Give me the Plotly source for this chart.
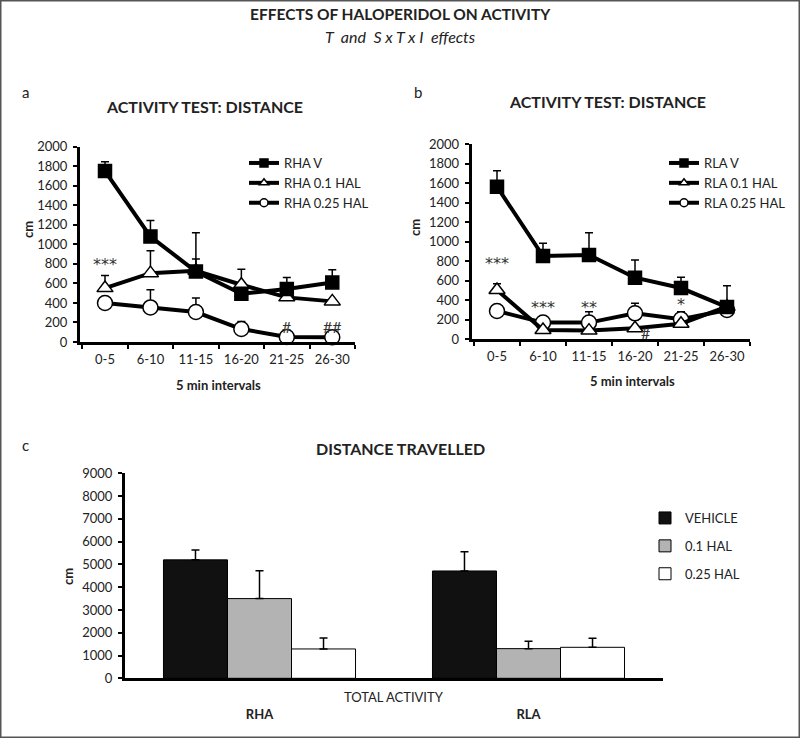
import plotly.graph_objects as go

# ---------------- data ----------------
intervals = ["0-5", "6-10", "11-15", "16-20", "21-25", "26-30"]

rha_v = [1750, 1080, 722, 494, 542, 610]
rha_v_err = [97, 164, 128, 0, 119, 130]
rha_01 = [552, 705, 730, 586, 457, 416]
rha_01_err = [129, 229, 388, 160, 0, 0]
rha_025 = [399, 354, 307, 133, 51, 48]
rha_025_err = [0, 181, 143, 78, 0, 0]

rla_v = [1563, 853, 863, 631, 525, 330]
rla_v_err = [164, 130, 229, 181, 110, 219]
rla_01 = [505, 96, 89, 113, 160, 334]
rla_01_err = [65, 0, 0, 0, 0, 0]
rla_025 = [290, 171, 171, 266, 205, 300]
rla_025_err = [0, 0, 112, 103, 78, 0]

groups = ["RHA", "RLA"]
treatments = ["VEHICLE", "0.1 HAL", "0.25 HAL"]
total_mean = {"VEHICLE": [5200, 4712], "0.1 HAL": [3500, 1302], "0.25 HAL": [1288, 1361]}
total_err = {"VEHICLE": [434, 849], "0.1 HAL": [1227, 322], "0.25 HAL": [483, 395]}
bar_colors = {"VEHICLE": "#111111", "0.1 HAL": "#b3b3b3", "0.25 HAL": "#ffffff"}

# significance marks: (interval index, y value, text)
marks_a = [(0, 790, "***"), (4, 160, "#"), (5, 160, "##")]
marks_b = [(0, 780, "***"), (1, 330, "***"), (2, 330, "**"), (4, 360, "*"), (3.22, 70, "#")]

FONT = "Lato"
W, H = 800, 738

fig = go.Figure()

symbols = {"V": ("square", "black", 13), "01": ("triangle-up", "white", 14), "025": ("circle", "white", 15)}
leg_symbols = {"V": ("square", "black", 8), "01": ("triangle-up", "white", 8), "025": ("circle", "white", 8)}


def add_series(x, y, err, key, name, xa, ya, legend):
    sym, fill, size = symbols[key]
    fig.add_trace(go.Scatter(
        x=x, y=y, mode="lines+markers", name=name, showlegend=False,
        xaxis=xa, yaxis=ya, cliponaxis=False,
        line=dict(color="black", width=4),
        marker=dict(symbol=sym, color=fill, size=size, line=dict(color="black", width=1.5)),
        error_y=dict(type="data", symmetric=False, array=err, arrayminus=[0] * len(err),
                     color="black", thickness=1.5, width=4),
    ))
    lsym, lfill, lsize = leg_symbols[key]
    fig.add_trace(go.Scatter(
        x=[None], y=[None], mode="lines+markers", name=name, legend=legend,
        xaxis=xa, yaxis=ya,
        line=dict(color="black", width=4),
        marker=dict(symbol=lsym, color=lfill, size=lsize, line=dict(color="black", width=1.5)),
    ))


add_series(intervals, rha_025, rha_025_err, "025", "RHA 0.25 HAL", "x", "y", "legend")
add_series(intervals, rha_01, rha_01_err, "01", "RHA 0.1 HAL", "x", "y", "legend")
add_series(intervals, rha_v, rha_v_err, "V", "RHA V", "x", "y", "legend")
add_series(intervals, rla_025, rla_025_err, "025", "RLA 0.25 HAL", "x2", "y2", "legend2")
add_series(intervals, rla_01, rla_01_err, "01", "RLA 0.1 HAL", "x2", "y2", "legend2")
add_series(intervals, rla_v, rla_v_err, "V", "RLA V", "x2", "y2", "legend2")

for i, t in enumerate(treatments):
    fig.add_trace(go.Bar(
        x=groups, y=total_mean[t], name=t, xaxis="x3", yaxis="y3", legend="legend3",
        legendgroup=t, legendrank=i,
        marker=dict(color=bar_colors[t], line=dict(color="black", width=1)),
        error_y=dict(type="data", symmetric=False, array=total_err[t], arrayminus=[0, 0],
                     color="black", thickness=1.5, width=4),
    ))

# ---------------- layout ----------------
def px_x(v):
    return v / W


def px_y(v):
    return 1 - v / H


tickfont = dict(family=FONT, size=13, color="#222")
line_y = dict(showline=True, linecolor="black", linewidth=3, ticks="outside", ticklen=4,
              tickwidth=2, tickcolor="black", showgrid=False, zeroline=False, tickfont=tickfont,
              automargin=False, ticklabelstandoff=3)
line_x = dict(showline=True, linecolor="black", linewidth=3, ticks="outside", ticklen=4,
              tickwidth=2, tickcolor="black", showgrid=False, zeroline=False, tickfont=tickfont,
              tickson="boundaries", type="category", range=[-0.55, 5.5], automargin=False,
              tickangle=0, ticklabelstandoff=3)

legfont = dict(family=FONT, size=13, color="#222")

fig.update_layout(
    width=W, height=H, margin=dict(l=0, r=0, t=0, b=0, autoexpand=False),
    paper_bgcolor="white", plot_bgcolor="white",
    font=dict(family=FONT, color="#222"),
    barmode="group", bargap=0.286, bargroupgap=0,
    xaxis=dict(domain=[px_x(80), px_x(355)], anchor="y", **line_x),
    yaxis=dict(domain=[px_y(342), px_y(146.7)], anchor="x", range=[0, 2000], dtick=200, **line_y),
    xaxis2=dict(domain=[px_x(471.7), px_x(750)], anchor="y2", **line_x),
    yaxis2=dict(domain=[px_y(339.3), px_y(144)], anchor="x2", range=[0, 2000], dtick=200, **line_y),
    xaxis3=dict(domain=[px_x(125), px_x(663)], anchor="y3", showline=True, linecolor="black",
                linewidth=3, ticks="", showgrid=False, zeroline=False, automargin=False,
                tickfont=dict(family=FONT, size=13, color="#222", weight="bold"),
                ticklabelstandoff=22),
    yaxis3=dict(domain=[px_y(678.3), px_y(473.3)], anchor="x3", range=[0, 9000], dtick=1000, **line_y),
    legend=dict(x=px_x(244), y=px_y(148), xanchor="left", yanchor="top",
                font=legfont, bgcolor="rgba(0,0,0,0)", traceorder="reversed"),
    legend2=dict(x=px_x(664), y=px_y(148), xanchor="left", yanchor="top",
                 font=legfont, bgcolor="rgba(0,0,0,0)", traceorder="reversed"),
    legend3=dict(x=px_x(645), y=px_y(503), xanchor="left", yanchor="top",
                 font=legfont, bgcolor="rgba(0,0,0,0)",
                 tracegroupgap=8, traceorder="grouped"),
)

ann = []


def text(x, y, s, size=12, bold=False, italic=False, angle=0):
    if bold:
        s = f"<b>{s}</b>"
    if italic:
        s = f"<i>{s}</i>"
    ann.append(dict(x=px_x(x), y=px_y(y), xref="paper", yref="paper", text=s, showarrow=False,
                    xanchor="center", yanchor="middle", textangle=angle,
                    font=dict(family=FONT, size=size, color="#222")))


text(400, 14, "EFFECTS OF HALOPERIDOL ON ACTIVITY", 15.5, bold=True)
text(400, 36, "T&nbsp; and&nbsp; S x T x I&nbsp; effects", 16, italic=True)
text(25, 92, "a", 15)
text(418, 92, "b", 15)
text(25, 445, "c", 15)
text(204, 107, "ACTIVITY TEST: DISTANCE", 16, bold=True)
text(607, 101, "ACTIVITY TEST: DISTANCE", 16, bold=True)
text(400, 448, "DISTANCE TRAVELLED", 16, bold=True)
text(28, 230, "cm", 13, bold=True, angle=-90)
text(415, 228, "cm", 13, bold=True, angle=-90)
text(68, 577, "cm", 13, bold=True, angle=-90)
text(218, 385, "5 min intervals", 13, bold=True)
text(632, 381, "5 min intervals", 13, bold=True)
text(394, 697, "TOTAL ACTIVITY", 13)

for i, yv, s in marks_a:
    fam = "DejaVu Sans" if "*" in s else FONT
    ann.append(dict(x=i, y=yv, xref="x", yref="y", text=s, showarrow=False,
                    font=dict(family=fam, size=16, color="#333")))
for i, yv, s in marks_b:
    fam = "DejaVu Sans" if "*" in s else FONT
    ann.append(dict(x=i, y=yv, xref="x2", yref="y2", text=s, showarrow=False,
                    font=dict(family=fam, size=16, color="#333")))

fig.update_layout(annotations=ann)

# frame around the figure
fig.add_shape(type="rect", xref="paper", yref="paper", x0=0, y0=0, x1=1, y1=1,
              line=dict(color="#555", width=3), layer="above")

fig.write_html(
    "out.html",
    config={"displayModeBar": False},
    post_script="document.body.style.margin='0px';document.body.style.overflow='hidden';",
)
